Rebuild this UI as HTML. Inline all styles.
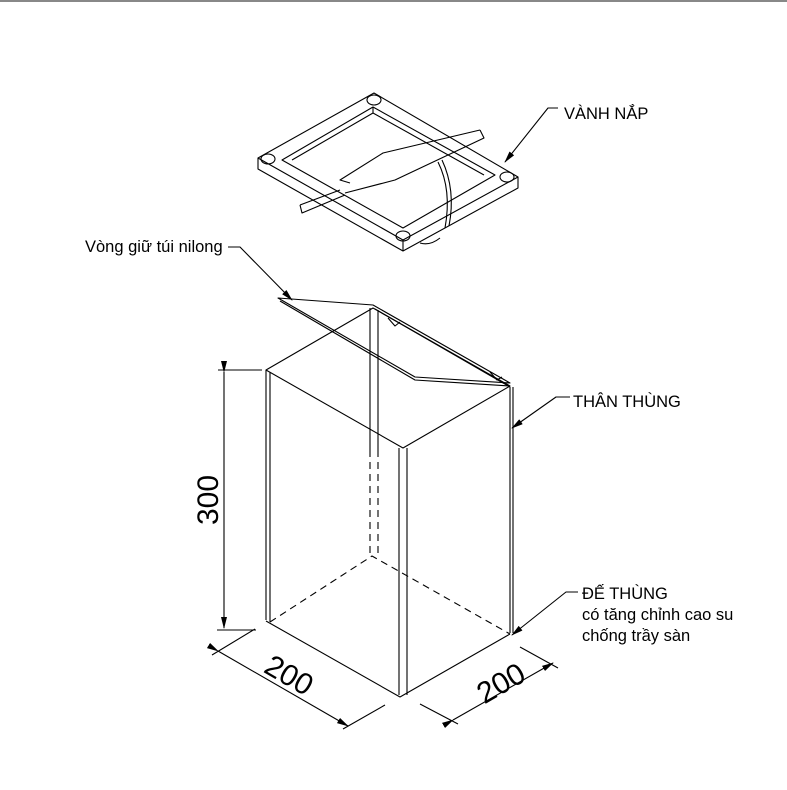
<!DOCTYPE html>
<html><head><meta charset="utf-8"><style>
html,body{margin:0;padding:0;background:#fff;width:787px;height:790px;overflow:hidden}
svg{display:block}
text{font-family:"Liberation Sans",sans-serif;fill:#000}
</style></head><body>
<svg width="787" height="790" viewBox="0 0 787 790" xmlns="http://www.w3.org/2000/svg">
<rect x="0" y="0" width="787" height="2" fill="#888"/>
<defs><marker id="ar" markerWidth="12" markerHeight="6" refX="11" refY="3" orient="auto" markerUnits="userSpaceOnUse"><path d="M0,0 L12,3 L0,6 Z" fill="#000"/></marker></defs>
<g fill="none" stroke="#000" stroke-width="1.1" stroke-linejoin="round">
<path d="M374,93 L258,158 L403,240 L518,177 Z" fill="#fff"/>
<path d="M258,158 L258,169 L403,251 L518,188 L518,177"/>
<path d="M403,240 L403,251"/>
<path d="M373,107 L282,160 L403,228 L495,175 Z"/>
<path d="M373,107 L373,113 L292,160"/>
<path d="M373,113 L484,175"/>
<path d="M300,205 L302,213 L345,195"/>
<path d="M300,205 L340,190"/>
<path d="M480,130 L383,153 L340,180 L350,183"/>
<path d="M480,130 L484,138 L395,180 L345,193"/>
<path d="M438,162 Q452,190 445,228 M442,160 Q456,190 449,226"/>
<path d="M420,243 Q430,246 440,238"/>
<ellipse cx="374" cy="100" rx="7" ry="5"/>
<ellipse cx="268" cy="159" rx="7" ry="5"/>
<ellipse cx="403" cy="236" rx="7" ry="5"/>
<ellipse cx="507" cy="177" rx="7" ry="5"/>
<path d="M266,370 L373,308 L510,386 L403,448 Z"/>
<path d="M266,370 L266,620 M270,372 L270,622"/>
<path d="M399,448 L399,695 M407,448 L407,695"/>
<path d="M510,387 L510,633 M513,387 L513,633"/>
<path d="M266,621 L400,697 L510,634"/>
<path d="M370,308 L370,450 M378,310 L378,450"/>
<path d="M370,450 L370,556 M378,450 L378,556 M270,622 L372,556 L510,634" stroke-dasharray="7,5"/>
<path d="M278,298 L373,305 L510,383 L415,377 Z"/>
<path d="M280,301 L415,380 L510,386"/>
<path d="M375,309 L510,387"/>
<path d="M388,318 L395,326 L400,322"/>
<path d="M490,372 L497,380 L502,377"/>
<path d="M218,370 L262,370 M217,630 L256,630"/>
<path d="M224,372 L224,628" marker-start="url(#ar)" marker-end="url(#ar)"/>
<path d="M212,655 L255,629 M343,729 L385,705"/>
<path d="M218,651 L348,726" marker-start="url(#ar)" marker-end="url(#ar)"/>
<path d="M420,704 L458,724 M520,647 L558,668"/>
<path d="M453,720 L553,663" marker-start="url(#ar)" marker-end="url(#ar)"/>
<path d="M558,108 L548,108 L505,162" marker-end="url(#ar)"/>
<path d="M570,397 L556,397 L512,428" marker-end="url(#ar)"/>
<path d="M578,592 L566,592 L512,635" marker-end="url(#ar)"/>
<path d="M228,247 L240,247 L292,300" marker-end="url(#ar)"/>
</g>
<text x="564" y="119" font-size="16.5">VÀNH NẮP</text>
<text x="573" y="407" font-size="16.5">THÂN THÙNG</text>
<text x="582" y="599" font-size="16.5">ĐẾ THÙNG</text>
<text x="582" y="620" font-size="16.5">có tăng chỉnh cao su</text>
<text x="582" y="641" font-size="16.5">chống trầy sàn</text>
<text x="85" y="252" font-size="16.5">Vòng giữ túi nilong</text>
<text transform="translate(218,500) rotate(-90)" font-size="30" text-anchor="middle">300</text>
<text transform="translate(284,684) rotate(30)" font-size="30" text-anchor="middle">200</text>
<text transform="translate(506,692) rotate(-30)" font-size="30" text-anchor="middle">200</text>
</svg>
</body></html>
